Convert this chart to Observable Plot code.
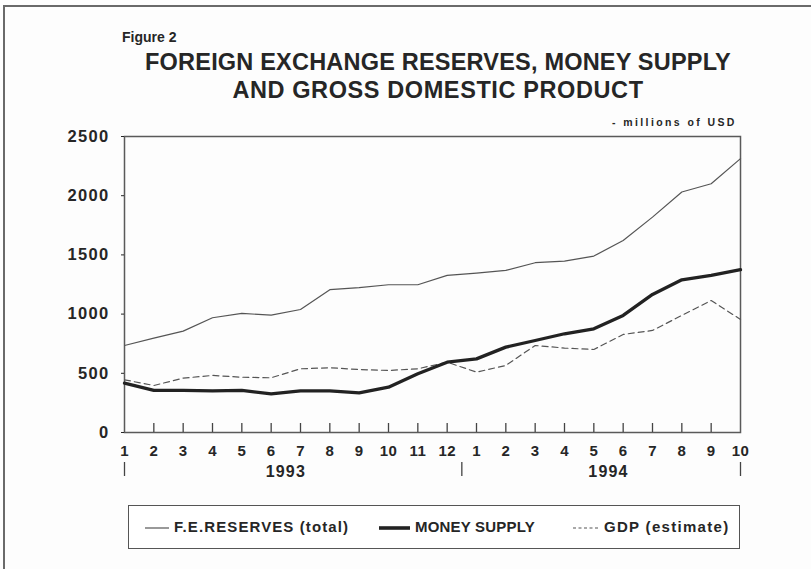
<!DOCTYPE html>
<html>
<head>
<meta charset="utf-8">
<script src="https://cdn.jsdelivr.net/npm/d3@7"></script>
<script src="https://cdn.jsdelivr.net/npm/@observablehq/plot@0.6"></script>
<style>
  html, body { margin: 0; padding: 0; background: #fff; }
  #wrap { position: relative; width: 811px; height: 569px; overflow: hidden; background: #fdfdfd;
          font-family: "Liberation Sans", Arial, sans-serif; color: #262626; }
  #bl { position: absolute; left: 3px; top: 5px; width: 2px; height: 564px; background: #6a6a6a; }
  #bt { position: absolute; left: 3px; top: 5px; width: 808px; height: 2px; background: #6a6a6a; }
  #fig { position: absolute; left: 122px; top: 29px; font-size: 14px; font-weight: bold; }
  .t { position: absolute; left: 8px; width: 860px; text-align: center; font-size: 23.5px; font-weight: bold; letter-spacing: 0.2px; }
  #unit { position: absolute; left: 612px; top: 116px; font-size: 10.5px; font-weight: bold; letter-spacing: 2.4px; }
  #chart { position: absolute; left: 0; top: 110px; }
  #chart g[aria-label="y-axis tick label"] text { letter-spacing: 1.3px; }
  #chart g[aria-label="x-axis tick label"] text { letter-spacing: 0.4px; }
  #chart g[aria-label="text"] text { letter-spacing: 1.2px; }
  #legend { position: absolute; left: 128px; top: 505px; width: 610px; height: 42px; border: 1.5px solid #555; background: #fff; }
  .li { position: absolute; top: 12px; font-size: 15px; font-weight: bold; white-space: nowrap; }
  .li svg { vertical-align: middle; margin-right: 5px; }
</style>
</head>
<body>
<div id="wrap">
  <div id="bl"></div><div id="bt"></div>
  <div id="fig">Figure 2</div>
  <div class="t" style="top:49px">FOREIGN EXCHANGE RESERVES, MONEY SUPPLY</div>
  <div class="t" style="top:77px; letter-spacing:0.6px">AND GROSS DOMESTIC PRODUCT</div>
  <div id="unit">- millions of USD</div>
  <div id="chart"></div>
  <div id="legend"></div>
</div>
<script>
// ---- data ----
const monthLabels = ["1","2","3","4","5","6","7","8","9","10","11","12","1","2","3","4","5","6","7","8","9","10"];
const years = ["1993", "1994"];
const yearStart = [0, 12];
const yearEnd = [11, 21];
const reserves = [735,797,856,969,1006,991,1039,1206,1223,1248,1248,1327,1346,1369,1434,1448,1490,1622,1819,2031,2101,2313];
const moneySupply = [417,355,355,352,355,327,352,352,335,383,496,594,622,721,777,834,876,989,1166,1290,1327,1375];
const gdp = [445,397,459,482,467,462,538,547,532,524,538,594,510,566,735,713,701,828,862,989,1115,955];
const yTicks = [0, 500, 1000, 1500, 2000, 2500];
const seriesNames = ["F.E.RESERVES (total)", "MONEY SUPPLY", "GDP (estimate)"];

const idx = monthLabels.map((_, i) => i);
const rows = (vals) => vals.map((v, i) => ({i, v}));
const yearRows = years.map((y, k) => ({year: y, mid: (yearStart[k] + yearEnd[k]) / 2}));
const seps = [yearStart[0], (yearEnd[0] + yearStart[1]) / 2, yearEnd[1]];

const chart = Plot.plot({
  width: 811,
  height: 385,
  marginLeft: 124,
  marginRight: 71,
  marginTop: 26,
  marginBottom: 63,
  style: {fontFamily: "Liberation Sans, Arial, sans-serif", color: "#262626", background: "transparent", overflow: "visible"},
  x: {domain: [0, 21]},
  y: {domain: [0, 2500]},
  marks: [
    Plot.frame({stroke: "#5a5a5a", strokeWidth: 1.5}),
    Plot.axisY({ticks: yTicks, tickFormat: d => String(d), tickSize: 3, tickPadding: 12, fontSize: 16.5, fontWeight: "bold", label: null}),
    Plot.axisX({ticks: idx, tickFormat: i => monthLabels[i], tickSize: 0, tickPadding: 13, fontSize: 15, fontWeight: "bold", label: null}),
    Plot.ruleX(idx.slice(1, -1), {x: d => d, y1: 0, y2: 0, insetTop: -9, stroke: "#444", strokeWidth: 1.3}),
    Plot.ruleX(seps, {x: d => d, y1: 0, y2: 0, insetTop: 30, insetBottom: -44, stroke: "#444", strokeWidth: 1.3}),
    Plot.text(yearRows, {x: "mid", y: 0, text: "year", dy: 39, fontSize: 16, fontWeight: "bold"}),
    Plot.line(rows(reserves), {x: "i", y: "v", stroke: "#555", strokeWidth: 1.2}),
    Plot.line(rows(gdp), {x: "i", y: "v", stroke: "#555", strokeWidth: 1.2, strokeDasharray: "6,4"}),
    Plot.line(rows(moneySupply), {x: "i", y: "v", stroke: "#222", strokeWidth: 3.3})
  ]
});
document.getElementById("chart").appendChild(chart);

// legend
const legend = document.getElementById("legend");
const items = [
  {left: 16, w: 24, sw: 1.2, dash: null, color: "#555", ls: 1.1},
  {left: 250, w: 31, sw: 3.6, dash: null, color: "#222", ls: 0.2},
  {left: 444, w: 26, sw: 1.2, dash: "3,2.5", color: "#555", ls: 1.3}
];
items.forEach((it, k) => {
  const d = document.createElement("div");
  d.className = "li";
  d.style.left = it.left + "px";
  d.style.letterSpacing = it.ls + "px";
  d.innerHTML = `<svg width="${it.w}" height="8"><line x1="0" y1="4" x2="${it.w}" y2="4" stroke="${it.color}" stroke-width="${it.sw}" ${it.dash ? `stroke-dasharray="${it.dash}"` : ""}/></svg>${seriesNames[k]}`;
  legend.appendChild(d);
});
</script>
</body>
</html>
